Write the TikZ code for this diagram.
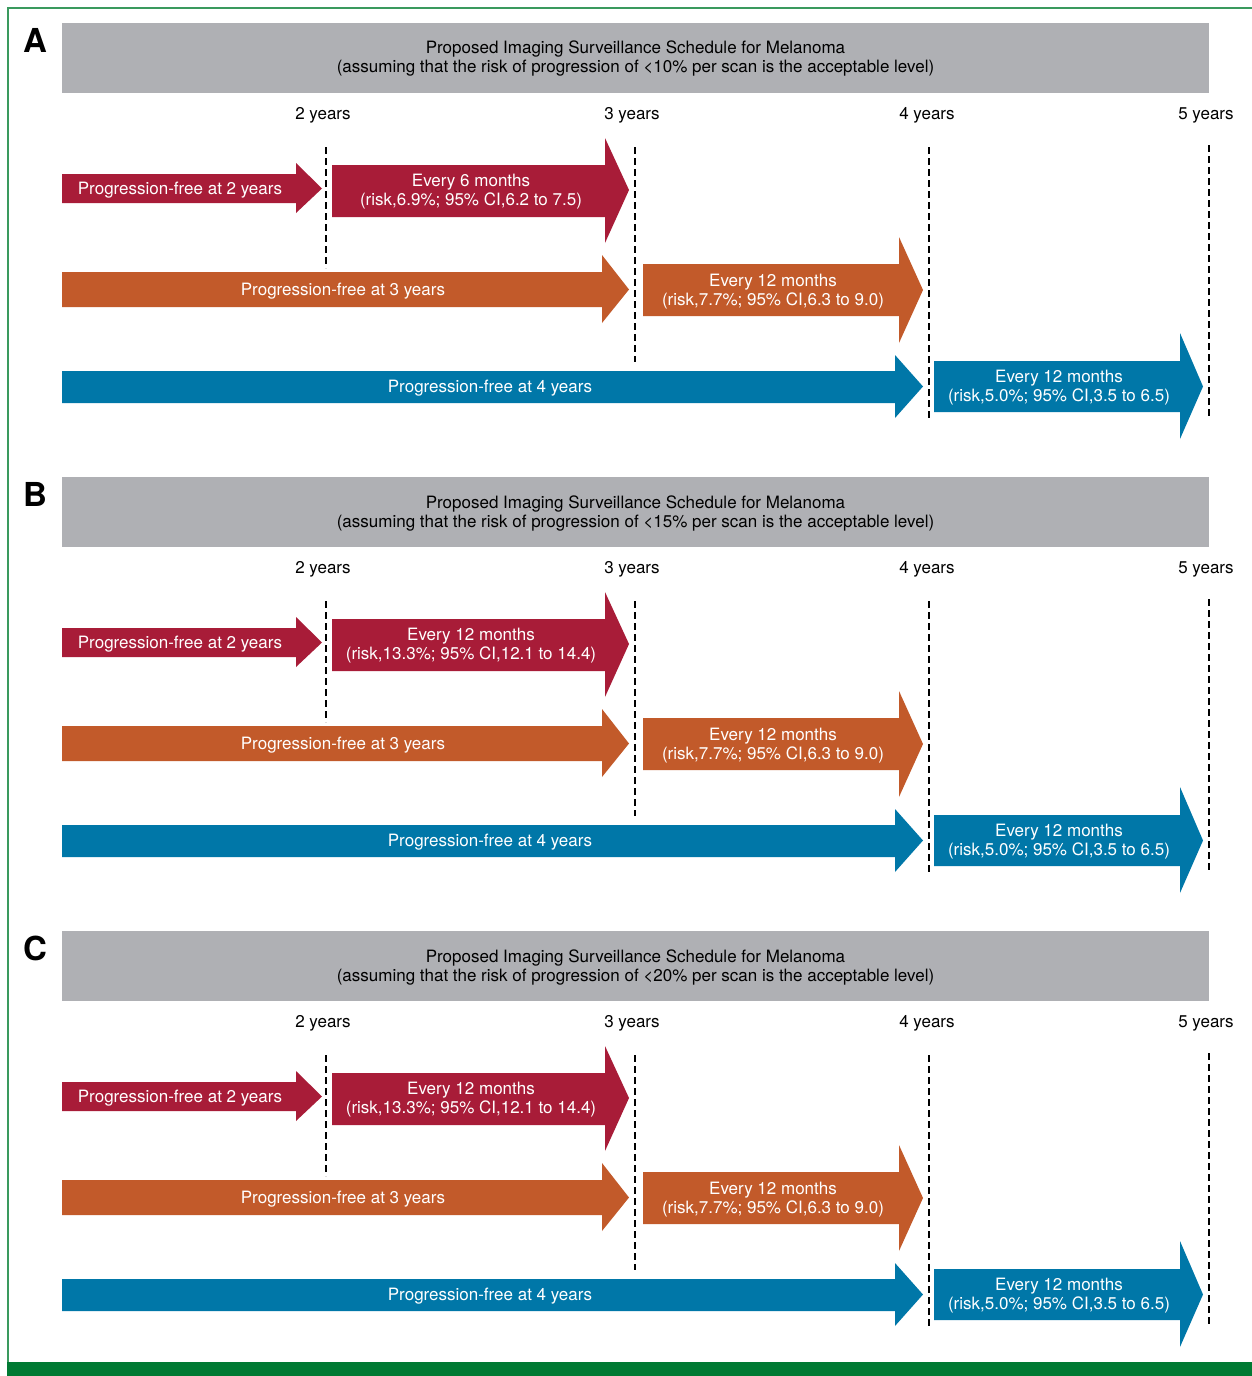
\documentclass[tikz,border=0pt]{standalone}
\usepackage{fontspec}
\setmainfont{TeX Gyre Heros}
\definecolor{cred}{HTML}{A81C38}
\definecolor{corange}{HTML}{C25A2A}
\definecolor{cblue}{HTML}{0077A8}
\definecolor{cgray}{HTML}{AFB0B4}
\definecolor{cgreen}{HTML}{007A33}
\definecolor{cgreenline}{HTML}{3A9A5E}
\tikzset{
  lbl/.style={font=\fontsize{17}{19}\selectfont, text=white, align=center, inner sep=0pt},
  yr/.style={font=\fontsize{17}{19}\selectfont, text=black, align=center, inner sep=0pt},
  dashline/.style={black, line width=2.2pt, dash pattern=on 7pt off 4pt},
  panelletter/.style={font=\bfseries\fontsize{33}{33}\selectfont, inner sep=0pt}
}
% color, x0, xbase, body top, body bottom, head top, head bottom, tip x, mid y
\newcommand\melarrow[9]{%
  \fill[#1] (#2,#4) -- (#3,#4) -- (#3,#6) -- (#8,#9) -- (#3,#7) -- (#3,#5) -- (#2,#5) -- cycle;}
% shift, suffix, letter, percent, red line 1, red line 2
\newcommand\melpanel[6]{%
\begin{scope}[shift={(0,#1)}]
  \fill[cgray] (62,23) rectangle (1209,93);
  \node[panelletter] (L#2) at (35,40) {#3};
  \node[yr] (T#2) at (635.5,59) {Proposed Imaging Surveillance Schedule for Melanoma\\(assuming that the risk of progression of <#4\% per scan is the acceptable level)};
  \node[yr] (y2#2) at (323,115.5) {2 years};
  \node[yr] (y3#2) at (632,115.5) {3 years};
  \node[yr] (y4#2) at (927,115.5) {4 years};
  \node[yr] (y5#2) at (1206,115.5) {5 years};
  \coordinate (d2t#2) at (326,147); \coordinate (d2b#2) at (326,268);
  \coordinate (d3t#2) at (635,147); \coordinate (d3b#2) at (635,362);
  \coordinate (d4t#2) at (929,147); \coordinate (d4b#2) at (929,418);
  \coordinate (d5t#2) at (1209,145); \coordinate (d5b#2) at (1209,418);
  \draw[dashline] (d2t#2) -- (d2b#2);
  \draw[dashline] (d3t#2) -- (d3b#2);
  \draw[dashline] (d4t#2) -- (d4b#2);
  \draw[dashline] (d5t#2) -- (d5b#2);
  \melarrow{cred}{62}{296}{174}{203}{163}{213}{322}{188.5}
  \melarrow{cred}{332}{605}{165}{217}{138}{243}{629}{190}
  \melarrow{corange}{62}{602}{272}{307}{255}{323}{629}{289.5}
  \melarrow{corange}{643}{899}{264}{316}{237}{343}{923}{290}
  \melarrow{cblue}{62}{895}{371}{403}{355}{418}{923}{386.5}
  \melarrow{cblue}{934}{1180}{361}{412}{333}{439}{1203}{386.5}
  \node[lbl] (p2#2) at (180,190) {Progression-free at 2 years};
  \node[lbl] (e1#2) at (471,191.5) {#5\\#6};
  \node[lbl] (p3#2) at (343,291) {Progression-free at 3 years};
  \node[lbl] (e2#2) at (773,291.5) {Every 12 months\\(risk,7.7\%; 95\% CI,6.3 to 9.0)};
  \node[lbl] (p4#2) at (490,388) {Progression-free at 4 years};
  \node[lbl] (e3#2) at (1059,388) {Every 12 months\\(risk,5.0\%; 95\% CI,3.5 to 6.5)};
\end{scope}}
\begin{document}
\begin{tikzpicture}[x=1pt,y=-1pt]
  \useasboundingbox (0,0) rectangle (1252,1376);
  \fill[white] (0,0) rectangle (1252,1376);
  \coordinate (fb) at (8,1362); \coordinate (ftl) at (8,8); \coordinate (ftr) at (1252,8);
  \draw[cgreenline, line width=1.5pt] (fb) -- (ftl) -- (ftr);
  \fill[cgreen] (7,1362) rectangle (1252,1376);
  \melpanel{0}{A}{A}{10}{Every 6 months}{(risk,6.9\%; 95\% CI,6.2 to 7.5)}
  \melpanel{454}{B}{B}{15}{Every 12 months}{(risk,13.3\%; 95\% CI,12.1 to 14.4)}
  \melpanel{908}{C}{C}{20}{Every 12 months}{(risk,13.3\%; 95\% CI,12.1 to 14.4)}
\end{tikzpicture}
\end{document}
